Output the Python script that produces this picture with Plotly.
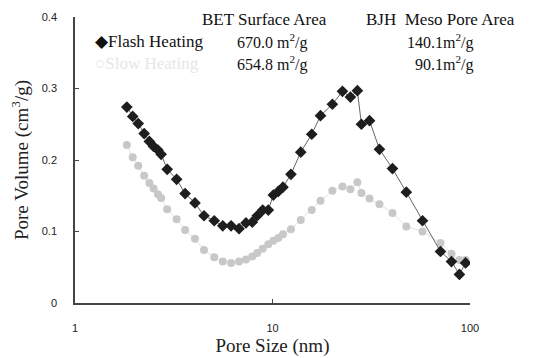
import plotly.graph_objects as go

# Pore size (nm) – shared BJH grid for both samples
pore_size = [1.83, 1.96, 2.09, 2.24, 2.38, 2.50, 2.63, 2.73, 2.93, 3.27, 3.61, 4.05, 4.50,
             5.07, 5.60, 6.17, 6.77, 7.34, 7.90, 8.37, 8.92, 9.52, 10.1, 10.7, 11.3, 12.4,
             13.9, 15.8, 17.5, 20.1, 22.6, 24.8, 26.9, 28.2, 31.0, 34.8, 40.5, 47.6, 57.5,
             70.9, 80.6, 88.4, 95.0]

flash_volume = [0.274, 0.261, 0.251, 0.237, 0.226, 0.219, 0.214, 0.208, 0.187, 0.173, 0.153,
                0.140, 0.122, 0.115, 0.108, 0.108, 0.104, 0.112, 0.113, 0.122, 0.130, 0.130,
                0.151, 0.156, 0.162, 0.180, 0.211, 0.236, 0.262, 0.278, 0.296, 0.288, 0.297,
                0.250, 0.255, 0.215, 0.188, 0.155, 0.115, 0.072, 0.058, 0.040, 0.056]

slow_volume = [0.221, 0.204, 0.192, 0.178, 0.168, 0.160, 0.152, 0.147, 0.131, 0.117, 0.102,
               0.090, 0.074, 0.064, 0.058, 0.056, 0.058, 0.061, 0.065, 0.070, 0.076, 0.082,
               0.087, 0.091, 0.096, 0.103, 0.116, 0.130, 0.143, 0.157, 0.163, 0.159, 0.169,
               0.154, 0.146, 0.138, 0.126, 0.107, 0.100, 0.084, 0.069, 0.060, 0.060]

y_tick_vals = [0, 0.1, 0.2, 0.3, 0.4]
y_tick_text = ["0", "0.1", "0.2", "0.3", "0.4"]
x_tick_vals = [1, 10, 100]
x_tick_text = ["1", "10", "100"]

header_texts = ["BET Surface Area", "BJH  Meso Pore Area"]
flash_texts = ["◆Flash Heating", "670.0 m<sup>2</sup>/g", "140.1m<sup>2</sup>/g"]
slow_texts = ["○Slow Heating", "654.8 m<sup>2</sup>/g", "90.1m<sup>2</sup>/g"]

SERIF = "Liberation Serif"
SANS = "Liberation Sans"

fig = go.Figure()
fig.add_trace(go.Scatter(
    x=pore_size, y=slow_volume, mode="lines+markers", name="Slow Heating",
    line=dict(color="#e2e2e2", width=1),
    marker=dict(symbol="circle", size=8, color="#c8c8c8", line=dict(width=0)),
))
fig.add_trace(go.Scatter(
    x=pore_size, y=flash_volume, mode="lines+markers", name="Flash Heating",
    line=dict(color="#666666", width=1),
    marker=dict(symbol="diamond", size=9, color="#1e1e1e", line=dict(width=0)),
))

# plot area: 395 x 286 px (x paper 0..1, y paper 0..1)
ann = []
# header row
ann.append(dict(x=0.48, y=0.99, text=header_texts[0], size=17))
ann.append(dict(x=0.925, y=0.99, text=header_texts[1], size=17))
# flash row
ann.append(dict(x=0.045, y=0.915, text=flash_texts[0], xanchor="left", size=17))
ann.append(dict(x=0.50, y=0.915, text=flash_texts[1], size=16))
ann.append(dict(x=0.925, y=0.915, text=flash_texts[2], size=16))
# slow row
ann.append(dict(x=0.045, y=0.838, text=slow_texts[0], xanchor="left", size=17, color="#e6e6e6"))
ann.append(dict(x=0.50, y=0.838, text=slow_texts[1], size=16))
ann.append(dict(x=0.935, y=0.838, text=slow_texts[2], size=16))

annotations = []
for a in ann:
    annotations.append(dict(
        x=a["x"], y=a["y"], xref="paper", yref="paper", text=a["text"],
        xanchor=a.get("xanchor", "center"), yanchor="middle", showarrow=False,
        font=dict(family=SERIF, size=a["size"], color=a.get("color", "#111111")),
    ))

fig.update_layout(
    width=532, height=350,
    margin=dict(l=67, r=70, t=9, b=55),
    paper_bgcolor="white", plot_bgcolor="white",
    showlegend=False,
    annotations=annotations,
    xaxis=dict(
        type="log", range=[0, 2], automargin=False,
        tickvals=x_tick_vals, ticktext=x_tick_text,
        ticks="inside", ticklen=4, tickcolor="#444", tickwidth=1,
        showline=True, linecolor="#444", linewidth=1.5,
        showgrid=False, zeroline=False,
        tickfont=dict(family=SANS, size=11, color="#222"),
        ticklabelstandoff=14,
        title=dict(text="Pore Size (nm)", font=dict(family=SERIF, size=19, color="#222"), standoff=6),
    ),
    yaxis=dict(
        range=[0, 0.4], automargin=False,
        tickvals=y_tick_vals, ticktext=y_tick_text,
        ticks="inside", ticklen=4, tickcolor="#444", tickwidth=1,
        showline=True, linecolor="#444", linewidth=1.5,
        showgrid=False, zeroline=False,
        tickfont=dict(family=SANS, size=11, color="#222"),
        ticklabelstandoff=14,
        title=dict(text="Pore Volume (cm<sup>3</sup>/g)", font=dict(family=SERIF, size=19, color="#222"), standoff=10),
    ),
)

fig.write_html("out.html")
